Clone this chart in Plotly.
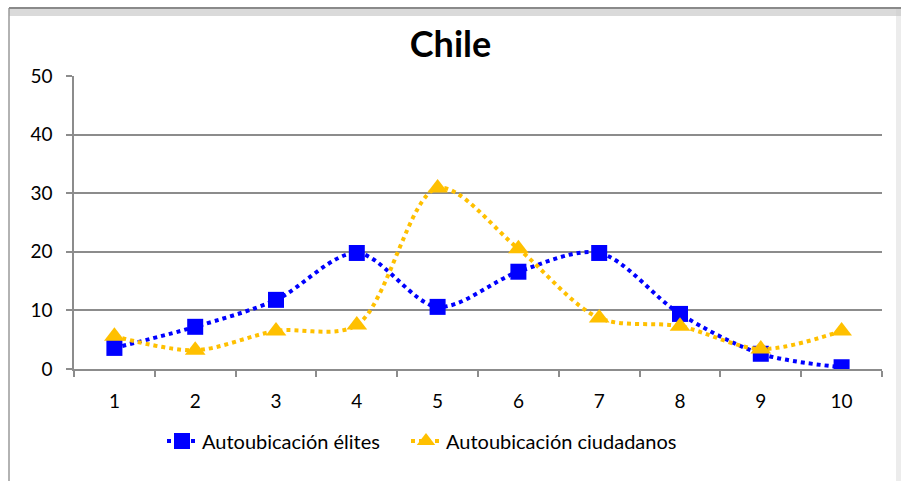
import plotly.graph_objects as go

categories = ["1", "2", "3", "4", "5", "6", "7", "8", "9", "10"]
elites = [3.6, 7.2, 11.8, 19.8, 10.6, 16.6, 19.8, 9.4, 2.6, 0.3]
ciudadanos = [5.6, 3.2, 6.5, 7.5, 30.9, 20.5, 8.7, 7.3, 3.4, 6.5]
y_ticks = [0, 10, 20, 30, 40, 50]

W, H = 901, 481
L, R, T, B = 74, 19, 76, 112
FONT = "Lato, 'Open Sans', sans-serif"

def px(x):
    return (x - L) / (W - L - R)

def py(y):
    return (H - B - y) / (H - T - B)

fig = go.Figure()
fig.add_trace(go.Scatter(
    x=categories, y=elites, name="Autoubicación élites", legend="legend",
    mode="lines+markers", line=dict(color="#0000FF", width=4, dash="dot", shape="spline", smoothing=0.9),
    marker=dict(symbol="square", size=16, color="#0000FF"),
))
fig.add_trace(go.Scatter(
    x=categories, y=ciudadanos, name="Autoubicación ciudadanos", legend="legend2",
    mode="lines+markers", line=dict(color="#FFC000", width=4, dash="dot", shape="spline", smoothing=0.9),
    marker=dict(symbol="triangle-up", size=18, color="#FFC000"),
))

shapes = [
    dict(type="line", xref="paper", yref="paper", x0=px(9), x1=px(9), y0=py(8), y1=py(481),
         line=dict(color="#9a9a9a", width=1.5)),
    dict(type="rect", xref="paper", yref="paper", x0=px(9), x1=px(901), y0=py(7), y1=py(16),
         line=dict(width=0), fillcolor="rgba(150,150,150,0.35)", layer="below"),
    dict(type="line", xref="paper", yref="paper", x0=px(9), x1=px(901), y0=py(8), y1=py(8),
         line=dict(color="#8a8a8a", width=2)),
    dict(type="rect", xref="paper", yref="paper", x0=px(896), x1=px(901), y0=py(8), y1=py(481),
         line=dict(width=0), fillcolor="rgba(200,200,200,0.35)", layer="below"),
]

legend_common = dict(orientation="h", yanchor="middle", font=dict(size=20), bgcolor="rgba(0,0,0,0)")

fig.update_layout(
    width=W, height=H,
    margin=dict(l=L, r=R, t=T, b=B),
    paper_bgcolor="white", plot_bgcolor="white",
    font=dict(family=FONT, size=19, color="black"),
    title=dict(text="<b>Chile</b>", x=0.5, xanchor="center", y=1 - 44 / H, yanchor="middle",
               font=dict(size=36, family=FONT, color="black")),
    showlegend=True,
    legend=dict(x=px(162), xanchor="left", y=py(441), **legend_common),
    legend2=dict(x=px(406), xanchor="left", y=py(441), **legend_common),
    shapes=shapes,
)
fig.update_xaxes(
    type="category", categoryorder="array", categoryarray=categories,
    showline=True, linecolor="#8c8c8c", linewidth=1.5,
    ticks="outside", tickson="boundaries", ticklen=6, tickcolor="#8c8c8c", tickwidth=1.5,
    showgrid=False, tickfont=dict(size=19), range=[-0.5, 9.5], ticklabelstandoff=14,
)
fig.update_yaxes(
    range=[0, 50], tickvals=y_ticks, ticktext=[str(v) for v in y_ticks],
    showline=True, linecolor="#8c8c8c", linewidth=1.5,
    ticks="outside", ticklen=6, tickcolor="#8c8c8c", tickwidth=1.5,
    showgrid=True, gridcolor="#8c8c8c", gridwidth=1.5, zeroline=False,
    tickfont=dict(size=19), ticklabelstandoff=10,
)

fig.write_html("out.html")
